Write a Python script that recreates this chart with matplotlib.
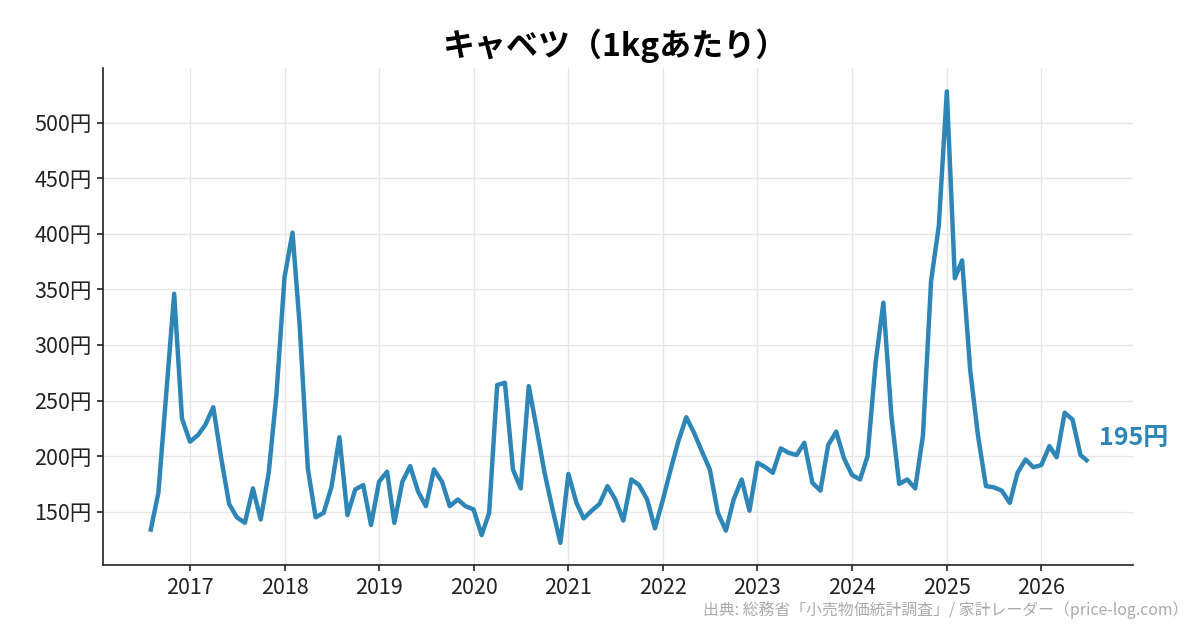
import pandas as pd
import matplotlib
matplotlib.use("Agg")
import matplotlib.pyplot as plt
import matplotlib.dates as mdates
from matplotlib.ticker import FuncFormatter

plt.rcParams['font.family'] = ['Noto Sans CJK JP', 'DejaVu Sans']

# monthly average price of cabbage per kg (yen), Aug 2016 - Jul 2026
start = "2016-08-01"
prices = [
    132, 167, 255, 346, 234,
    213, 219, 228, 244, 199, 157, 145, 140, 171, 143, 185, 256,
    361, 401, 316, 189, 145, 149, 172, 217, 147, 170, 174, 138,
    177, 186, 140, 177, 191, 168, 155, 188, 177, 155, 161, 155,
    152, 129, 149, 264, 266, 188, 171, 263, 224, 185, 152, 122,
    184, 158, 144, 151, 157, 173, 161, 142, 179, 174, 161, 135,
    161, 189, 213, 235, 221, 204, 188, 149, 133, 161, 179, 151,
    194, 190, 185, 207, 203, 201, 212, 176, 169, 210, 222, 198,
    183, 179, 200, 284, 338, 236, 175, 179, 171, 219, 357, 407,
    528, 360, 376, 278, 219, 173, 172, 169, 158, 185, 197, 190,
    192, 209, 199, 239, 233, 201, 195,
]
months = pd.date_range(start, periods=len(prices), freq="MS")
yticks = [150, 200, 250, 300, 350, 400, 450, 500]

color = "#2E86B7"

fig = plt.figure(figsize=(12, 6.3), dpi=100)
ax = fig.add_axes([0.086, 0.103, 0.858, 0.789])

ax.plot(months, prices, color=color, lw=3.2, solid_joinstyle="round", solid_capstyle="butt")

ax.set_xlim(pd.Timestamp("2016-02-01"), pd.Timestamp("2026-12-20"))
ax.set_ylim(102, 549)
ax.set_yticks(yticks)
ax.yaxis.set_major_formatter(FuncFormatter(lambda v, p: f"{int(v)}円"))
ax.xaxis.set_major_locator(mdates.YearLocator())
ax.xaxis.set_major_formatter(mdates.DateFormatter("%Y"))

ax.grid(True, color="#e6e6e6", lw=1)
ax.set_axisbelow(True)
for s in ["top", "right"]:
    ax.spines[s].set_visible(False)
for s in ["left", "bottom"]:
    ax.spines[s].set_color("#222222")
    ax.spines[s].set_linewidth(1.2)
ax.tick_params(labelsize=15.5, colors="#222222", length=4.5, width=1.2, pad=4)

ax.annotate(f"{prices[-1]}円", xy=(months[-1], prices[-1]), xytext=(8, 17),
            textcoords="offset points", color=color, fontsize=18,
            fontweight="bold", va="center", ha="left")

fig.text(0.512, 0.928, "キャベツ（1kgあたり）", ha="center", va="center",
         fontsize=23, fontweight="bold")
fig.text(0.99, 0.032, "出典: 総務省「小売物価統計調査」/ 家計レーダー（price-log.com）",
         ha="right", va="center", fontsize=11.4, color="#aaaaaa")

fig.savefig("out.png", dpi=100)
